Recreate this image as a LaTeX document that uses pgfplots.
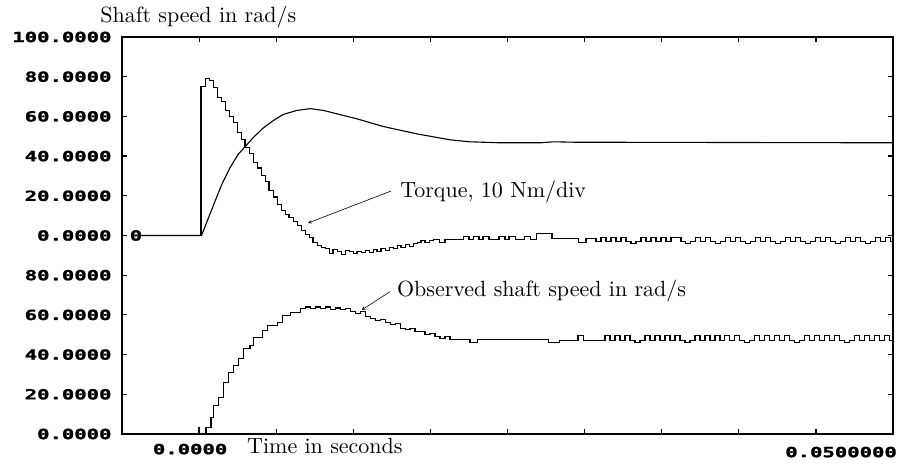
\documentclass[border=0pt]{standalone}
\usepackage{pgfplots}
\usepackage{pgfplotstable}
\pgfplotsset{compat=1.18}
\usepackage{graphicx}
\usepackage{fontspec}
\newfontfamily\monob[FakeBold=1.3]{DejaVu Sans Mono Bold}
\newfontfamily\lmten{lmroman10-regular.otf}
\newcommand\tl[1]{\mbox{\scalebox{1.47}[1]{\monob\fontsize{14}{14}\selectfont #1}}}
\newcommand\lbl{\lmten\fontsize{22}{24}\selectfont}

% Torque in Nm (10 Nm per division; plotted as 100 + 2*T)
\pgfplotstableread{
t T
-4.18 0
0.14 37.6
0.43 39.6
0.72 39.1
1.01 37.3
1.30 34.8
1.59 33.8
1.87 31.5
2.16 30.0
2.45 28.4
2.74 25.9
3.03 24.1
3.31 22.1
3.60 20.6
3.89 18.3
4.18 17.0
4.47 15.2
4.76 13.7
5.04 11.4
5.33 9.7
5.62 7.9
5.91 6.4
6.20 5.3
6.48 4.6
6.77 3.6
7.06 2.5
7.35 1.3
7.64 0.3
7.93 -0.5
8.21 -1.8
8.50 -2.5
8.79 -3.0
9.08 -3.3
9.37 -4.6
9.65 -3.6
9.94 -4.1
10.23 -4.8
10.52 -3.8
10.81 -4.1
11.10 -4.6
11.38 -4.1
11.67 -4.3
11.96 -3.8
12.25 -4.3
12.54 -3.6
12.82 -4.1
13.11 -3.3
13.40 -3.8
13.69 -3.0
13.98 -3.3
14.27 -2.5
14.55 -3.0
14.84 -2.3
15.13 -2.8
15.42 -2.0
15.71 -1.8
15.99 -1.3
16.28 -1.8
16.57 -1.3
16.86 -1.0
17.29 -1.8
17.72 -1.0
19.02 -0.2
19.45 -1.0
19.74 -0.2
20.17 -1.0
20.46 -0.2
20.89 -1.0
21.61 -0.2
22.04 -1.0
22.33 -0.2
22.77 -1.0
23.42 -0.2
23.85 -1.0
24.28 0.5
25.43 -0.8
27.31 -1.8
27.88 -0.8
28.60 -1.5
28.96 -0.5
29.32 -1.5
29.68 -0.5
30.04 -1.5
30.40 -0.5
30.76 -1.5
31.12 -2.0
31.48 -1.5
31.84 -0.5
32.20 -1.5
32.56 -0.5
32.92 -1.5
33.28 -0.5
33.64 -1.5
34.00 -0.5
34.36 -0.5
34.72 -1.5
35.08 -2.0
35.44 -1.5
35.80 -0.5
36.16 -1.5
36.52 -0.5
36.88 -1.5
37.24 -2.0
37.60 -1.5
37.96 -0.5
38.32 -1.5
38.68 -0.5
39.04 -1.5
39.40 -2.0
39.76 -1.5
40.12 -0.5
40.48 -1.5
40.84 -0.5
41.20 -1.5
41.56 -2.0
41.92 -1.5
42.28 -0.5
42.64 -1.5
43.00 -0.5
43.36 -1.5
43.72 -2.0
44.08 -1.5
44.44 -0.5
44.80 -1.5
45.16 -0.5
45.52 -1.5
45.88 -2.0
46.24 -1.5
46.60 -0.5
46.96 -1.5
47.32 -0.5
47.68 -1.5
48.04 -2.0
48.40 -1.5
48.76 -0.5
49.12 -1.5
49.48 -0.5
49.84 -1.5
50.00 -1.5
}\torque

% Shaft speed (rad/s), upper trace, plotted as 100 + w
\pgfplotstableread{
t w
-4.18 0
0 0
0.19 0.3
0.67 8.8
1.15 17.3
1.64 25.8
2.23 34.2
2.83 41.0
3.31 44.7
3.91 49.4
4.63 54.2
5.35 57.9
6.07 61.0
7.04 63.0
8.00 63.9
8.96 63.0
9.92 61.3
11.36 58.8
13.28 54.9
15.69 51.2
18.08 48.2
19.50 47.2
21.70 46.7
24.60 46.7
25.50 47.2
27.00 47.0
50.00 46.7
}\speed

% Observed shaft speed (rad/s), lower trace
\pgfplotstableread{
t v
-5.5556 0
-0.07 3
0.00 0
0.50 3.5
0.86 8.5
1.01 14.5
1.37 18.5
1.73 26
2.09 31
2.45 34.5
2.81 38
3.17 43
3.67 44.5
3.89 48.5
4.54 52
4.90 54.5
5.62 56
5.98 59.5
6.56 61
7.28 63
7.64 64
8.00 63
8.36 64
8.72 63
9.08 64
9.44 62.5
9.80 63.5
10.16 62.5
10.52 63
10.88 61.5
11.24 60.5
11.60 61.5
11.96 59
12.32 58
12.68 57
13.04 57.5
13.40 56
13.76 55
14.12 55.5
14.48 53
14.84 52.5
15.20 53
15.56 51.5
16.28 50
16.64 50.5
17.00 49
17.36 48
17.72 49
18.08 47.5
19.52 46
20.03 47.5
25.20 46
26.00 47
27.30 49.5
27.70 47
29.25 49.5
29.61 47
29.97 49.5
30.33 47
30.69 49.5
31.05 47
31.41 46
31.77 47
32.13 49.5
32.49 47
32.85 49.5
33.21 47
33.57 49.5
33.93 47
34.29 49.5
34.65 47
35.01 46
35.37 47
35.73 49.5
36.09 47
36.45 49.5
36.81 47
37.17 49.5
37.53 47
37.89 49.5
38.25 47
38.61 49.5
38.97 47
39.33 46
39.69 47
40.05 49.5
40.41 47
40.77 49.5
41.13 47
41.49 49.5
41.85 47
42.21 49.5
42.57 47
42.93 46
43.29 47
43.65 49.5
44.01 47
44.37 49.5
44.73 47
45.09 49.5
45.45 47
45.81 49.5
46.17 47
46.53 46
46.89 47
47.25 49.5
47.61 47
47.97 49.5
48.33 47
48.69 49.5
49.05 47
49.41 49.5
49.77 47
50.00 47
}\observed

\begin{document}
\begin{tikzpicture}
\begin{axis}[
  at={(0,0)}, anchor=south west,
  scale only axis, width=771pt, height=397pt,
  xmin=-5.5556, xmax=50, ymin=0, ymax=200,
  axis line style={line width=1.5pt},
  tick align=inside,
  major tick length=5pt,
  every tick/.style={black, line width=1.2pt},
  xtick={0,5.5556,11.1111,16.6667,22.2222,27.7778,33.3333,38.8889,44.4444},
  xticklabels={},
  ytick={0,20,40,60,80,100,120,140,160,180,200},
  yticklabels={\tl{0.0000},\tl{20.0000},\tl{40.0000},\tl{60.0000},\tl{80.0000},\tl{0.0000},\tl{20.0000},\tl{40.0000},\tl{60.0000},\tl{80.0000},\tl{100.0000}},
  yticklabel style={anchor=east, xshift=-7pt},
  clip=false,
]
\addplot[black, line width=1.1pt] table[x=t, y expr=100+\thisrow{w}] {\speed};
\addplot[const plot, black, line width=1.1pt] table[x=t, y expr=100+2*\thisrow{T}] {\torque};
\addplot[const plot, black, line width=1.1pt] table[x=t, y=v] {\observed};

\node at (axis cs:-4.55,100) {\tl{0}};
\node[anchor=base west, inner sep=0pt] at (axis cs:-7.13,207.1) {\lbl Shaft speed in rad/s};
\node[anchor=base west, inner sep=0pt] at (axis cs:14.48,118.9) {\lbl Torque, 10 Nm/div};
\node[anchor=base west, inner sep=0pt] at (axis cs:14.25,69.2) {\lbl Observed shaft speed in rad/s};
\node[anchor=base west, inner sep=0pt] at (axis cs:3.45,-9.6) {\lbl Time in seconds};
\node at (axis cs:-0.65,-7.6) {\tl{0.0000}};
\node[anchor=east, inner sep=0pt] at (axis cs:50.29,-9.1) {\tl{0.0500000}};
\draw[->, >=stealth, line width=0.6pt] (axis cs:13.83,122.4) -- (axis cs:7.85,106.3);
\draw[->, >=stealth, line width=0.6pt] (axis cs:13.76,71.7) -- (axis cs:11.72,62.5);
\end{axis}
\pgfresetboundingbox
\useasboundingbox (-122pt,-34pt) rectangle (777pt,434pt);
\end{tikzpicture}
\end{document}
